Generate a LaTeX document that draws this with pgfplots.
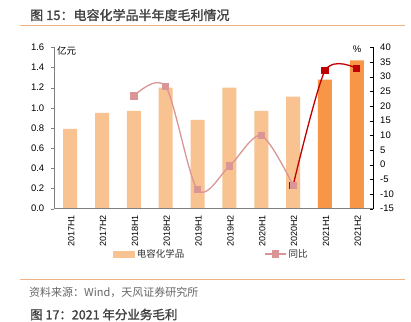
\documentclass[border=0pt]{standalone}
\usepackage{pgfplots}
\pgfplotsset{compat=1.18}
\usepackage{fontspec}
\setmainfont{Liberation Sans}
\newfontfamily\cjk{Noto Sans CJK SC}
\newfontfamily\cjkm[FakeBold=1.3]{Noto Sans CJK SC}
\definecolor{barlight}{HTML}{F8C291}
\definecolor{bardark}{HTML}{F79646}
\definecolor{pinkc}{HTML}{D99694}
\definecolor{redc}{HTML}{C00000}
\definecolor{rulec}{HTML}{F4B183}
\definecolor{axgray}{HTML}{808080}
\pgfplotsset{mylineleg/.style={legend image code/.code={\draw[mark repeat=2,mark phase=2,##1] plot coordinates {(0pt,0pt) (10.5pt,0pt) (21pt,0pt)};}}}
\begin{document}
\begin{tikzpicture}[x=1pt,y=1pt]
\useasboundingbox (0,0) rectangle (411,321);
\clip (0,0) rectangle (411,321);
\node[anchor=west, font=\cjkm\fontsize{13}{15}\selectfont, text=black!75, inner sep=0] at (30,306) {图 15：电容化学品半年度毛利情况};
\draw[rulec, line width=1pt] (20,295) -- (405,295);
\draw[rulec, line width=1pt] (20,42) -- (405,42);
\node[anchor=west, font=\cjk\fontsize{11}{13}\selectfont, text=black!60, inner sep=0] at (29,29) {资料来源：Wind，天风证券研究所};
\node[anchor=west, font=\cjkm\fontsize{12.5}{14}\selectfont, text=black!75, inner sep=0] at (30,6.5) {图 17：2021 年分业务毛利};

\begin{axis}[at={(54.3pt,112.4pt)}, anchor=south west, scale only axis,
  width=318.4pt, height=161.3pt,
  xmin=-0.5, xmax=9.5, ymin=0, ymax=1.6,
  ytick={0,0.2,0.4,0.6,0.8,1.0,1.2,1.4,1.6},
  /pgf/number format/assume math mode=true,
  yticklabel style={font=\fontsize{9.5}{10}\selectfont, xshift=-3.5pt, /pgf/number format/.cd, fixed, fixed zerofill, precision=1},
  axis x line*=bottom, axis y line*=left, axis line style={axgray},
  tick align=outside, major tick length=3pt,
  ytick style={axgray},
  xtick={0,1,2,3,4,5,6,7,8,9},
  xticklabels={2017H1,2017H2,2018H1,2018H2,2019H1,2019H2,2020H1,2020H2,2021H1,2021H2},
  xtick style={draw=none},
  xticklabel style={rotate=90, anchor=east, font=\fontsize{9}{10}\selectfont, yshift=-1pt},
  clip=false,
]
\addplot[ybar, bar width=14pt, fill=barlight, draw=none] coordinates {
(0,0.79) (1,0.95) (2,0.97) (3,1.20) (4,0.88) (5,1.20) (6,0.97) (7,1.11)};
\addplot[ybar, bar width=14pt, fill=bardark, draw=none] coordinates {
(8,1.28) (9,1.47)};
\end{axis}

\begin{axis}[at={(54.3pt,112.4pt)}, anchor=south west, scale only axis,
  width=318.4pt, height=161.3pt,
  xmin=-0.5, xmax=9.5, ymin=-15, ymax=40,
  ytick={-15,-10,-5,0,5,10,15,20,25,30,35,40},
  /pgf/number format/assume math mode=true,
  axis y line*=right, axis x line*=bottom,
  x axis line style={axgray}, y axis line style={black},
  tick align=inside, major tick length=3pt, minor tick length=3pt,
  xtick=\empty, minor xtick={-0.5,0.5,1.5,2.5,3.5,4.5,5.5,6.5,7.5,8.5,9.5},
  minor x tick style={axgray},
  ytick style={black},
  yticklabel style={font=\fontsize{9.5}{10}\selectfont, xshift=4pt},
  legend columns=2,
  legend style={at={(0.494,-0.282)}, anchor=center, draw=none, fill=none,
    font=\cjk\fontsize{9.5}{11}\selectfont, text=black!80,
    /tikz/every even column/.append style={column sep=78pt}},
  clip=false,
]
\addlegendimage{legend image code/.code={\fill[barlight] (0pt,-3pt) rectangle (21pt,3pt);}}
\addplot[pinkc, line width=1.3pt, smooth, mark=square*, mark size=3pt,
  mark options={fill=pinkc, draw=pinkc}, mylineleg]
  coordinates {(2,23.4) (3,26.6) (4,-8.6) (5,-0.5) (6,9.9) (7,-7.1)};
\addplot[redc, line width=1.3pt, smooth, tension=0.45, mark=square*, mark size=3pt,
  mark options={fill=redc, draw=redc}, forget plot]
  coordinates {(7,-7.1) (8,32.0) (9,32.8)};
\addplot[pinkc, only marks, mark=square*, mark size=3pt, mark options={fill=pinkc, draw=pinkc}, forget plot]
  coordinates {(7,-7.1)};
\legend{电容化学品,同比}
\end{axis}
\node[anchor=west, font=\cjk\fontsize{9.5}{11}\selectfont, inner sep=0] at (57,270.5) {亿元};
\node[font=\fontsize{9.5}{11}\selectfont, inner sep=0] at (357,272) {\%};
\end{tikzpicture}
\end{document}
